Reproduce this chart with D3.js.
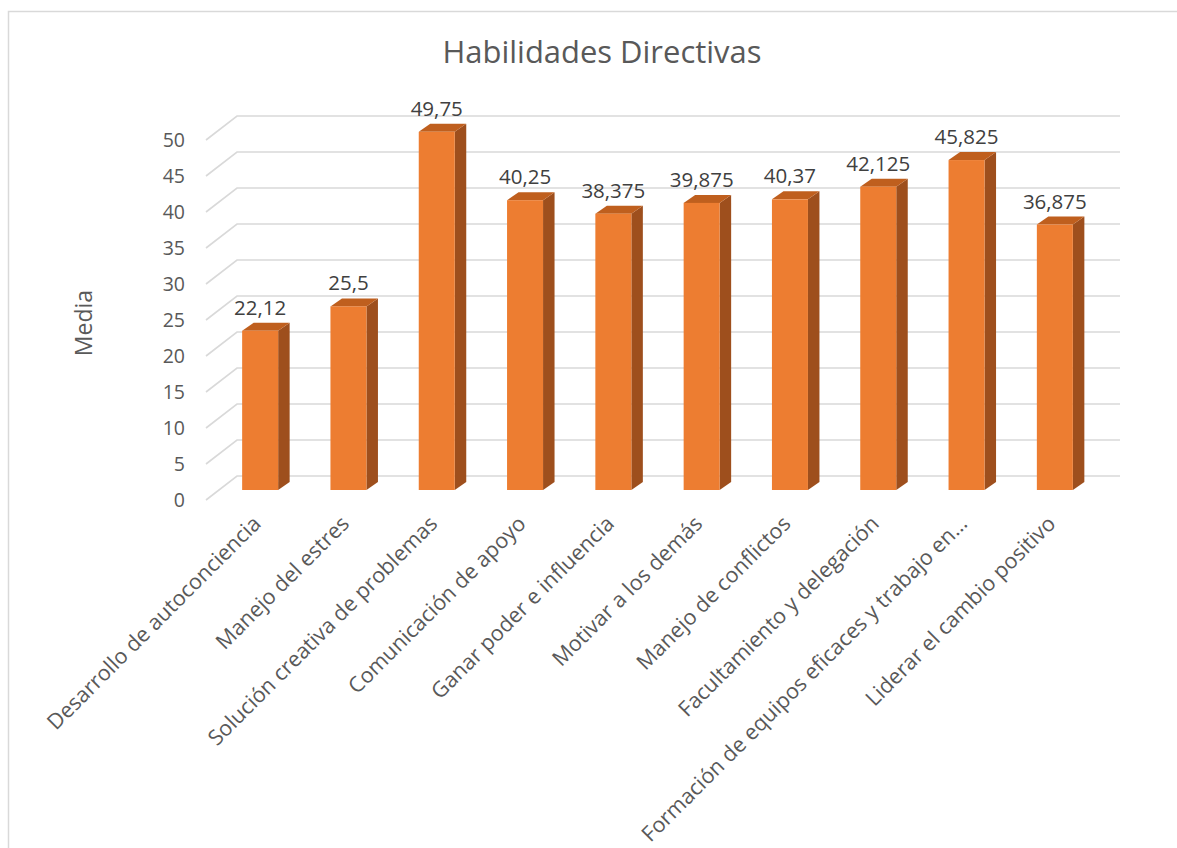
<!DOCTYPE html>
<html><head><meta charset="utf-8">
<script src="https://cdn.jsdelivr.net/npm/d3@7/dist/d3.min.js"></script>
<style>body{margin:0;background:#fff}svg{display:block}text{font-family:"Open Sans",sans-serif;fill:#595959}</style>
</head><body>
<svg id="c" width="1177" height="848"></svg>
<script>
const categories = ["Desarrollo de autoconciencia","Manejo del estres","Solución creativa de problemas","Comunicación de apoyo","Ganar poder e influencia","Motivar a los demás","Manejo de conflictos","Facultamiento y delegación","Formación de equipos eficaces y trabajo en…","Liderar el cambio positivo"];
const values = [22.12, 25.5, 49.75, 40.25, 38.375, 39.875, 40.37, 42.125, 45.825, 36.875];
const valueLabels = ["22,12","25,5","49,75","40,25","38,375","39,875","40,37","42,125","45,825","36,875"];
const yTicks = [0,5,10,15,20,25,30,35,40,45,50];
const title = "Habilidades Directivas";
const yTitle = "Media";

const svg = d3.select("#c");
svg.append("rect").attr("x",8.5).attr("y",11.5).attr("width",1300).attr("height",1000)
  .attr("fill","#fff").attr("stroke","#d9d9d9").attr("stroke-width",1.5);

const y = d3.scaleLinear().domain([0,50]).range([476,116]);
const x = d3.scaleBand().domain(categories).range([237,1120]);
const floorDX = -31, floorDY = 24;      // back wall -> front floor edge
const barOffX = -21, barOffY = 14;     // back wall -> bar front plane
const dX = 11.5, dY = -8;              // bar depth
const barW = 36;

// gridlines
const g = svg.append("g");
yTicks.forEach(t => {
  g.append("path").attr("d",`M${237+floorDX},${y(t)+floorDY}L237,${y(t)}L1120,${y(t)}`)
   .attr("fill","none").attr("stroke","#d9d9d9").attr("stroke-width",1.6);
});
// tick labels
svg.append("g").selectAll("text").data(yTicks).join("text")
  .attr("x",185).attr("y",t=>y(t)+floorDY).attr("dy","0.36em")
  .attr("text-anchor","end").style("font-size","19.5px").text(t=>t);

// bars
const bars = svg.append("g").selectAll("g").data(values).join("g");
bars.each(function(v,i){
  const cx = x(categories[i]) + x.bandwidth()/2 + barOffX;
  const x0 = cx - barW/2, x1 = cx + barW/2;
  const yb = y(0) + barOffY, yt = y(v) + barOffY;
  const s = d3.select(this);
  s.append("path").attr("d",`M${x1},${yb}L${x1+dX},${yb+dY}L${x1+dX},${yt+dY}L${x1},${yt}Z`).attr("fill","#9E4F1D");
  s.append("path").attr("d",`M${x0},${yt}L${x0+dX},${yt+dY}L${x1+dX},${yt+dY}L${x1},${yt}Z`).attr("fill","#BF5F1E");
  s.append("rect").attr("x",x0).attr("y",yt).attr("width",barW).attr("height",yb-yt).attr("fill","#ED7D31");
  s.append("text").attr("x",cx).attr("y",yt-16).attr("text-anchor","middle")
   .style("font-size","20.5px").style("fill","#404040").text(valueLabels[i]);
});

// x labels
svg.append("g").selectAll("text").data(categories).join("text")
  .attr("transform",d=>`translate(${x(d)+x.bandwidth()/2+barOffX+2},${525}) rotate(-45)`)
  .attr("text-anchor","end").style("font-size","21.5px").text(d=>d);

// titles
const tt = svg.append("text").attr("x",602).attr("y",63).attr("text-anchor","middle")
  .style("font-size","30px").text(title);
const w = tt.node().getComputedTextLength();
tt.style("font-size",(30*319/w)+"px");
svg.append("text").attr("transform","translate(92,323) rotate(-90)").attr("text-anchor","middle")
  .style("font-size","23px").text(yTitle);
</script>
</body></html>
